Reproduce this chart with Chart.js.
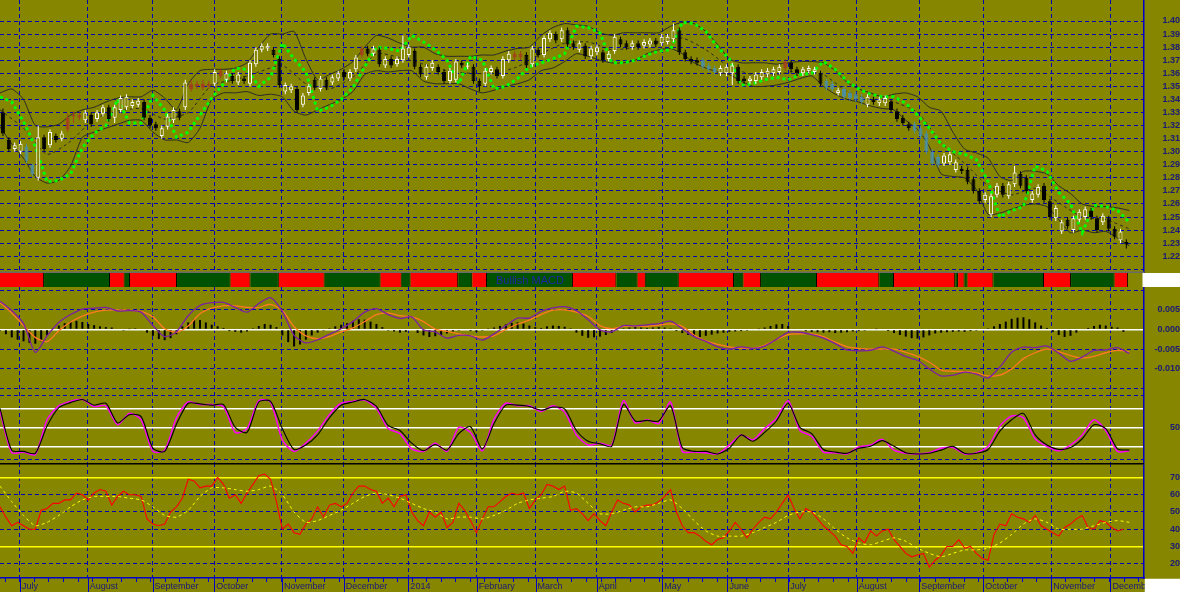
<!DOCTYPE html>
<html>
<head>
<meta charset="utf-8">
<title>EUR/USD daily with indicators</title>
<script src="https://cdn.jsdelivr.net/npm/chart.js@4.4.1/dist/chart.umd.min.js"></script>
<style>
  html, body { margin: 0; padding: 0; background: #868600; }
  #wrap { position: relative; width: 1180px; height: 592px; background: #868600; overflow: hidden; }
  #wrap canvas { position: absolute; left: 0; }
</style>
</head>
<body>
<div id="wrap">
  <canvas id="price" width="1180" height="273" style="top:0px"></canvas>
  <canvas id="strip" width="1180" height="14" style="top:273px"></canvas>
  <canvas id="macd" width="1180" height="105" style="top:287px"></canvas>
  <canvas id="stoch" width="1180" height="71" style="top:392px"></canvas>
  <canvas id="rsi" width="1180" height="129" style="top:463px"></canvas>
</div>
<script>
Chart.defaults.font.family = "'Liberation Sans', Arial, sans-serif";

// x unit = one step (two trading days)
const xMax = 194.5;
const monthTicks = [3.40, 14.91, 25.93, 36.43, 47.94, 58.45, 69.43, 81.06, 91.06,
  101.46, 112.60, 123.67, 134.02, 145.67, 156.29, 167.17, 178.75, 188.80];
const monthLabels = ['July', 'August', 'September', 'October', 'November', 'December', '2014',
  'February', 'March', 'April', 'May', 'June', 'July', 'August', 'September', 'October', 'November', 'December'];

// candles
const opens = [1.330,1.309,1.302,1.300,1.304,1.290,1.280,1.311,1.305,1.312,
  1.310,1.317,1.327,1.326,1.324,1.328,1.325,1.329,1.334,1.326,
  1.332,1.334,1.335,1.336,1.338,1.326,1.321,1.312,1.319,1.324,
  1.331,1.334,1.352,1.350,1.349,1.352,1.352,1.362,1.355,1.358,
  1.353,1.356,1.352,1.367,1.378,1.379,1.378,1.371,1.346,1.347,
  1.348,1.336,1.345,1.355,1.348,1.355,1.353,1.356,1.361,1.356,
  1.363,1.374,1.379,1.375,1.378,1.366,1.371,1.367,1.370,1.374,
  1.377,1.365,1.357,1.364,1.365,1.361,1.354,1.355,1.368,1.365,
  1.365,1.354,1.352,1.361,1.363,1.358,1.370,1.372,1.375,1.374,
  1.367,1.378,1.374,1.386,1.390,1.386,1.393,1.383,1.378,1.381,
  1.373,1.376,1.376,1.371,1.377,1.386,1.383,1.380,1.383,1.381,
  1.382,1.385,1.383,1.384,1.386,1.393,1.376,1.371,1.370,1.370,
  1.366,1.364,1.360,1.360,1.360,1.365,1.356,1.354,1.354,1.357,
  1.359,1.360,1.361,1.364,1.368,1.363,1.360,1.362,1.361,1.360,
  1.354,1.352,1.345,1.348,1.345,1.344,1.342,1.336,1.340,1.337,
  1.337,1.338,1.331,1.326,1.321,1.321,1.318,1.314,1.300,1.296,
  1.291,1.292,1.286,1.287,1.286,1.279,1.270,1.263,1.252,1.267,
  1.274,1.266,1.275,1.283,1.280,1.263,1.267,1.274,1.262,1.249,
  1.239,1.248,1.240,1.248,1.250,1.255,1.249,1.246,1.249,1.241,
  1.232,1.231];
const closes = [1.314,1.302,1.305,1.306,1.293,1.283,1.311,1.302,1.315,1.309,
  1.314,1.326,1.328,1.328,1.330,1.321,1.330,1.334,1.325,1.334,
  1.341,1.342,1.338,1.339,1.326,1.320,1.318,1.318,1.327,1.332,
  1.326,1.353,1.348,1.352,1.352,1.350,1.361,1.358,1.360,1.354,
  1.359,1.354,1.368,1.378,1.381,1.381,1.374,1.351,1.351,1.350,
  1.332,1.343,1.350,1.349,1.356,1.349,1.357,1.360,1.357,1.361,
  1.372,1.379,1.375,1.379,1.367,1.371,1.366,1.371,1.379,1.380,
  1.365,1.359,1.365,1.368,1.361,1.354,1.362,1.369,1.366,1.366,
  1.354,1.350,1.362,1.364,1.358,1.371,1.375,1.375,1.372,1.366,
  1.379,1.374,1.387,1.391,1.385,1.393,1.382,1.380,1.383,1.373,
  1.379,1.380,1.370,1.375,1.388,1.382,1.380,1.383,1.380,1.384,
  1.385,1.382,1.388,1.388,1.393,1.376,1.371,1.369,1.368,1.365,
  1.363,1.361,1.364,1.365,1.366,1.354,1.354,1.356,1.359,1.361,
  1.362,1.363,1.365,1.369,1.363,1.360,1.363,1.364,1.363,1.352,
  1.349,1.348,1.347,1.342,1.341,1.340,1.338,1.342,1.338,1.340,
  1.341,1.332,1.325,1.322,1.318,1.316,1.312,1.300,1.291,1.290,
  1.297,1.298,1.292,1.285,1.277,1.270,1.262,1.267,1.266,1.274,
  1.267,1.275,1.284,1.274,1.270,1.268,1.273,1.263,1.250,1.257,
  1.246,1.243,1.249,1.254,1.256,1.250,1.240,1.251,1.241,1.235,
  1.239,1.229];
const highs = [1.333,1.311,1.307,1.308,1.306,1.291,1.320,1.313,1.317,1.314,
  1.316,1.329,1.331,1.330,1.332,1.330,1.332,1.336,1.336,1.336,
  1.343,1.344,1.340,1.341,1.340,1.328,1.323,1.320,1.329,1.334,
  1.333,1.355,1.355,1.354,1.355,1.354,1.363,1.364,1.362,1.360,
  1.361,1.358,1.370,1.380,1.383,1.383,1.380,1.373,1.353,1.352,
  1.350,1.345,1.352,1.357,1.358,1.357,1.359,1.362,1.363,1.363,
  1.374,1.381,1.381,1.381,1.380,1.373,1.373,1.373,1.389,1.382,
  1.379,1.367,1.367,1.370,1.367,1.363,1.364,1.371,1.370,1.368,
  1.367,1.356,1.364,1.366,1.365,1.373,1.377,1.377,1.377,1.376,
  1.381,1.380,1.389,1.393,1.392,1.395,1.395,1.385,1.385,1.383,
  1.381,1.382,1.378,1.377,1.390,1.388,1.385,1.385,1.385,1.386,
  1.387,1.387,1.390,1.390,1.398,1.395,1.378,1.373,1.372,1.372,
  1.368,1.366,1.366,1.367,1.368,1.367,1.358,1.358,1.361,1.363,
  1.364,1.365,1.367,1.371,1.370,1.365,1.365,1.366,1.365,1.362,
  1.356,1.354,1.349,1.350,1.347,1.346,1.344,1.344,1.342,1.342,
  1.343,1.340,1.333,1.328,1.323,1.323,1.320,1.316,1.302,1.298,
  1.299,1.300,1.294,1.289,1.288,1.281,1.272,1.269,1.268,1.276,
  1.276,1.277,1.289,1.285,1.282,1.270,1.275,1.276,1.264,1.259,
  1.248,1.250,1.251,1.256,1.258,1.257,1.251,1.253,1.251,1.243,
  1.241,1.233];
const lows = [1.312,1.300,1.300,1.298,1.291,1.281,1.278,1.300,1.303,1.307,
  1.308,1.315,1.322,1.324,1.322,1.319,1.323,1.327,1.323,1.322,
  1.330,1.332,1.333,1.334,1.324,1.318,1.316,1.310,1.317,1.322,
  1.324,1.332,1.346,1.348,1.347,1.348,1.350,1.356,1.353,1.352,
  1.351,1.352,1.350,1.365,1.376,1.377,1.372,1.349,1.344,1.345,
  1.330,1.334,1.343,1.347,1.346,1.347,1.351,1.354,1.355,1.354,
  1.361,1.372,1.373,1.373,1.365,1.364,1.364,1.365,1.368,1.372,
  1.363,1.357,1.355,1.362,1.359,1.352,1.352,1.353,1.364,1.363,
  1.352,1.346,1.350,1.359,1.356,1.356,1.368,1.370,1.370,1.364,
  1.365,1.372,1.372,1.384,1.383,1.384,1.380,1.378,1.376,1.371,
  1.371,1.374,1.368,1.369,1.375,1.380,1.378,1.378,1.378,1.379,
  1.380,1.380,1.381,1.382,1.384,1.374,1.369,1.367,1.366,1.363,
  1.361,1.359,1.358,1.358,1.351,1.352,1.352,1.352,1.352,1.355,
  1.357,1.358,1.359,1.362,1.361,1.358,1.358,1.360,1.359,1.350,
  1.347,1.346,1.343,1.340,1.339,1.338,1.336,1.334,1.336,1.335,
  1.335,1.330,1.323,1.320,1.316,1.314,1.310,1.298,1.289,1.288,
  1.289,1.290,1.284,1.283,1.275,1.268,1.260,1.261,1.250,1.265,
  1.265,1.264,1.273,1.272,1.268,1.261,1.265,1.261,1.248,1.247,
  1.237,1.241,1.238,1.246,1.248,1.248,1.238,1.244,1.239,1.233,
  1.230,1.226];
const tealBars = [4,5,119,120,121,140,141,143,144,145,146,155,156,157,158,159];
const brownBars = [11,12,13,32,33,34,35,37,61,87,88,133];

// Bollinger bands and trailing stop (every 2 steps, mid every 4)
const bandUpper = [1.345,1.348,1.340,1.320,1.319,1.321,1.328,1.332,1.334,1.338,
  1.341,1.342,1.342,1.347,1.341,1.332,1.352,1.362,1.363,1.363,
  1.364,1.368,1.380,1.390,1.390,1.392,1.371,1.355,1.359,1.363,
  1.369,1.380,1.389,1.387,1.383,1.380,1.380,1.375,1.373,1.373,
  1.373,1.374,1.374,1.377,1.379,1.380,1.389,1.395,1.398,1.397,
  1.396,1.391,1.389,1.391,1.391,1.391,1.391,1.396,1.399,1.398,
  1.392,1.382,1.371,1.368,1.368,1.368,1.367,1.368,1.369,1.369,
  1.368,1.362,1.353,1.348,1.345,1.342,1.344,1.345,1.342,1.334,
  1.331,1.315,1.302,1.299,1.295,1.281,1.278,1.285,1.285,1.283,
  1.274,1.268,1.260,1.258,1.258,1.257,1.255];
const bandLower = [1.319,1.306,1.295,1.281,1.276,1.278,1.289,1.311,1.315,1.318,
  1.321,1.324,1.324,1.315,1.309,1.309,1.307,1.318,1.340,1.345,
  1.345,1.346,1.343,1.344,1.342,1.331,1.328,1.332,1.336,1.340,
  1.346,1.359,1.362,1.361,1.362,1.362,1.354,1.352,1.352,1.352,
  1.348,1.345,1.347,1.350,1.352,1.355,1.362,1.364,1.369,1.375,
  1.373,1.370,1.368,1.368,1.370,1.375,1.378,1.379,1.375,1.368,
  1.364,1.361,1.359,1.354,1.350,1.350,1.351,1.353,1.356,1.358,
  1.350,1.344,1.340,1.338,1.335,1.333,1.332,1.324,1.317,1.304,
  1.283,1.281,1.280,1.271,1.252,1.253,1.256,1.259,1.260,1.258,
  1.248,1.238,1.240,1.238,1.239,1.234,1.228];
const bandMid = [1.332,1.318,1.298,1.308,1.325,1.331,1.333,1.325,1.330,1.351,
  1.355,1.361,1.366,1.352,1.348,1.357,1.375,1.372,1.367,1.362,
  1.360,1.360,1.365,1.375,1.383,1.384,1.378,1.380,1.384,1.387,
  1.378,1.365,1.359,1.359,1.362,1.359,1.346,1.340,1.338,1.330,
  1.307,1.291,1.274,1.267,1.272,1.261,1.250,1.248,1.241];
const stopLine = [1.342,1.338,1.323,1.304,1.277,1.278,1.283,1.303,1.314,1.320,
  1.340,1.322,1.322,1.343,1.332,1.311,1.315,1.328,1.341,1.352,
  1.364,1.363,1.350,1.357,1.383,1.371,1.361,1.331,1.334,1.340,
  1.349,1.365,1.380,1.379,1.377,1.389,1.384,1.378,1.370,1.352,
  1.373,1.370,1.348,1.350,1.356,1.365,1.368,1.371,1.375,1.396,
  1.395,1.391,1.368,1.368,1.370,1.374,1.377,1.378,1.399,1.398,
  1.392,1.380,1.371,1.351,1.352,1.355,1.357,1.355,1.359,1.360,
  1.369,1.363,1.354,1.348,1.344,1.342,1.342,1.337,1.328,1.318,
  1.306,1.300,1.298,1.294,1.277,1.250,1.255,1.258,1.289,1.285,
  1.269,1.260,1.238,1.259,1.258,1.255,1.246];

// MACD state strip: segment edges, alternating bearish (red) / bullish (green)
const stripEdges = [0, 7.5, 18.7, 21.2, 22.1, 30.1, 39.2, 42.6, 47.4, 55.2, 64.7, 68.3, 69.8,
  77.9, 80.3, 82.8, 97.4, 104.8, 108.4, 109.8, 115.4, 124.8, 126.4, 129.4, 138.9, 149.5,
  152, 162.4, 162.9, 164, 164.5, 168.9, 177.5, 182.1, 189.5, 191.8];
const stripText = 'Bullish MACD';
const stripTextSegment = 15;

// MACD (lines every 2 steps, histogram every step)
const macdLine = [0.0072,0.0048,0.0015,-0.0058,-0.0016,0.0018,0.0038,0.0052,0.0054,0.0056,
  0.0047,0.0048,0.0044,0.0010,-0.0018,-0.0006,0.0035,0.0061,0.0068,0.0069,
  0.0056,0.0044,0.0066,0.0081,0.0046,-0.0015,-0.0034,-0.0026,-0.0012,0.0002,
  0.0020,0.0044,0.0053,0.0038,0.0028,0.0032,-0.0001,-0.0006,-0.0022,-0.0015,
  -0.0016,-0.0027,-0.0011,0.0010,0.0029,0.0029,0.0046,0.0055,0.0058,0.0048,
  0.0025,-0.0001,-0.0006,0.0010,0.0009,0.0012,0.0015,0.0021,0.0002,-0.0018,
  -0.0030,-0.0044,-0.0050,-0.0044,-0.0048,-0.0042,-0.0025,-0.0007,-0.0007,-0.0013,
  -0.0022,-0.0036,-0.0052,-0.0054,-0.0053,-0.0044,-0.0055,-0.0069,-0.0078,-0.0100,
  -0.0118,-0.0116,-0.0108,-0.0113,-0.0123,-0.0095,-0.0058,-0.0045,-0.0046,-0.0042,
  -0.0060,-0.0081,-0.0070,-0.0053,-0.0052,-0.0046,-0.0061];
const macdSignal = [0.0068,0.0042,0.0010,-0.0020,-0.0031,-0.0003,0.0019,0.0034,0.0044,0.0049,
  0.0050,0.0049,0.0046,0.0032,0.0002,-0.0007,0.0009,0.0040,0.0054,0.0060,
  0.0060,0.0056,0.0056,0.0064,0.0048,0.0007,-0.0016,-0.0023,-0.0018,-0.0006,
  0.0004,0.0020,0.0038,0.0042,0.0035,0.0032,0.0020,0.0001,-0.0005,-0.0011,
  -0.0016,-0.0019,-0.0016,0.0000,0.0014,0.0024,0.0038,0.0049,0.0050,0.0044,
  0.0033,0.0010,0.0002,0.0008,0.0009,0.0008,0.0011,0.0014,0.0008,-0.0014,
  -0.0029,-0.0038,-0.0044,-0.0047,-0.0048,-0.0040,-0.0026,-0.0013,-0.0011,-0.0011,
  -0.0018,-0.0032,-0.0044,-0.0048,-0.0050,-0.0050,-0.0050,-0.0058,-0.0068,-0.0083,
  -0.0103,-0.0106,-0.0107,-0.0110,-0.0118,-0.0116,-0.0100,-0.0074,-0.0059,-0.0050,
  -0.0056,-0.0066,-0.0072,-0.0068,-0.0059,-0.0053,-0.0057];
const macdHist = [-0.0003,-0.0012,-0.0020,-0.0026,-0.0030,-0.0034,-0.0036,-0.0030,
  -0.0015,0.0003,
  0.0010,0.0016,0.0020,0.0022,0.0019,0.0014,0.0011,0.0008,0.0006,0.0005,
  0.0002,-0.0003,0.0001,0.0003,-0.0002,
  -0.0008,-0.0016,-0.0024,-0.0027,-0.0022,-0.0012,
  0.0008,0.0018,0.0026,0.0024,0.0018,0.0012,0.0008,
  0.0004,-0.0004,-0.0006,-0.0008,-0.0005,0.0003,
  0.0009,0.0014,0.0012,0.0006,
  -0.0015,-0.0032,-0.0043,-0.0038,-0.0026,
  -0.0015,-0.0008,-0.0003,
  0.0003,0.0008,0.0012,0.0016,0.0022,0.0026,0.0025,0.0020,0.0014,0.0006,
  -0.0003,-0.0005,-0.0008,-0.0006,-0.0002,
  -0.0009,-0.0015,-0.0019,-0.0017,-0.0014,-0.0010,-0.0005,
  -0.0003,0.0002,-0.0004,-0.0006,-0.0003,0.0001,
  0.0005,0.0009,0.0013,0.0017,0.0018,0.0015,0.0010,0.0006,
  0.0004,0.0008,0.0010,0.0009,0.0007,0.0003,
  -0.0008,-0.0016,-0.0021,-0.0020,
  -0.0018,-0.0014,-0.0009,-0.0003,
  0.0003,0.0005,0.0006,0.0005,0.0004,0.0005,0.0006,0.0005,0.0003,
  -0.0004,-0.0009,-0.0014,-0.0018,-0.0019,-0.0016,-0.0013,-0.0010,-0.0008,-0.0006,
  -0.0005,-0.0004,-0.0003,-0.0002,0.0001,
  0.0005,0.0009,0.0013,0.0014,0.0009,
  0.0002,-0.0002,-0.0004,-0.0006,-0.0007,-0.0008,-0.0007,-0.0009,-0.0008,-0.0007,-0.0005,-0.0004,
  -0.0003,-0.0002,0.0001,0.0002,
  -0.0004,-0.0009,-0.0014,-0.0018,-0.0022,-0.0023,-0.0020,-0.0015,
  -0.0010,-0.0008,-0.0007,-0.0006,-0.0005,-0.0006,-0.0004,-0.0003,
  -0.0002,0.0003,
  0.0008,0.0014,0.0020,0.0027,0.0030,0.0031,0.0026,0.0018,0.0010,
  0.0004,-0.0006,-0.0014,-0.0019,-0.0016,
  -0.0008,-0.0002,0.0004,
  0.0009,0.0012,0.0010,0.0007,0.0005,
  -0.0006];

// stochastic (every 2 steps)
const stochK = [76,10,11,7,62,84,91,94,83,84,
  54,72,62,12,14,65,90,86,86,83,
  42,48,92,90,30,12,25,44,70,88,
  91,93,80,48,40,16,12,25,12,50,
  42,13,63,88,84,84,75,84,74,38,
  22,25,22,92,57,62,56,90,12,11,
  10,8,22,38,30,48,64,92,45,36,
  11,10,8,19,22,31,14,9,8,10,
  17,18,8,10,20,52,68,65,32,20,
  13,22,38,62,45,12,13];
const stochD = [80,14,12,9,52,81,89,94,85,88,
  57,70,67,17,12,55,88,87,85,86,
  50,42,90,91,48,15,22,38,65,85,
  90,94,83,53,45,25,13,23,14,40,
  51,16,56,85,85,83,77,82,79,45,
  28,24,20,86,60,61,60,84,18,12,
  12,8,17,38,28,42,60,88,50,40,
  15,11,9,17,20,29,20,10,8,9,
  14,20,9,9,15,44,62,72,38,22,
  15,18,32,54,48,16,14];

// RSI (every step) and its average (every 2 steps)
const rsi = [53,47,42,44,42,40,40,51,52,55,
  55,57,57,61,60,57,61,63,62,54,
  59,62,60,60,59,46,43,42,43,50,
  53,58,69,68,64,65,65,70,66,58,
  60,55,61,66,71,72,69,56,40,43,
  38,37,43,46,53,47,54,55,53,55,
  61,65,65,63,62,55,58,53,59,60,
  50,45,42,50,47,50,41,44,55,51,
  45,38,46,53,53,56,59,61,60,61,
  52,57,60,66,65,63,65,51,52,49,
  45,49,45,42,50,57,55,54,50,53,
  54,54,56,59,63,50,42,38,38,36,
  33,31,34,35,39,44,40,35,40,44,
  47,46,50,55,60,52,46,52,50,46,
  42,39,36,31,30,26,35,32,39,36,
  39,40,34,30,26,24,25,26,18,22,
  25,30,30,34,29,30,26,23,22,37,
  43,42,49,47,46,44,48,42,40,38,
  36,41,43,46,48,41,40,45,44,41,
  39,40];
const rsiAvg = [65,56,48,42,44,48,53,57,59,59,
  59,58,57,53,48,47,51,59,64,64,
  63,62,63,65,60,50,44,45,48,51,
  55,59,61,60,58,55,52,50,46,47,
  47,46,48,51,55,57,58,59,62,61,
  55,49,49,51,53,53,55,57,52,45,
  39,36,36,36,38,41,44,48,50,50,
  46,40,35,32,31,33,35,33,29,26,
  24,26,28,28,29,32,37,43,46,44,
  40,40,40,42,44,45,44];

// axis ticks
const priceTicks = [1.21,1.22,1.23,1.24,1.25,1.26,1.27,1.28,1.29,1.30,1.31,1.32,1.33,1.34,1.35,1.36,1.37,1.38,1.39,1.40];
const macdTicks = [-0.015, -0.010, -0.005, 0, 0.005, 0.010];
const stochTicks = [0, 20, 50, 80, 100];
const stochLevels = [20, 50, 80];
const rsiTicks = [20, 30, 40, 50, 60, 70];
const rsiLevels = [30, 70];

// ---- styling ----
const OLIVE = '#868600';
const GRID = '#0000b0';
const AXIS = '#0000c8';
const LABEL = '#1a1a78';
const GRID_DASH = [4, 3];
const TEAL = '#4d8ea0';
const BROWN = '#a4401c';

function xAxis(withLabels, showGrid) {
  return {
    type: 'linear', min: 0, max: xMax, offset: false, bounds: 'data',
    afterBuildTicks: s => { s.ticks = monthTicks.map(v => ({ value: v })); },
    afterFit: s => { s.height = withLabels ? 14 : 0; s.paddingLeft = 0; s.paddingRight = 0; },
    grid: { display: showGrid !== false, color: GRID, lineWidth: 1, drawTicks: false, offset: false },
    border: { display: withLabels, color: AXIS, width: 1.5, dash: GRID_DASH },
    ticks: withLabels ? {
      autoSkip: false, maxRotation: 0, minRotation: 0, align: 'start', labelOffset: 2, padding: 3,
      color: LABEL, font: { size: 9 },
      callback: (v, i) => monthLabels[i]
    } : { display: false }
  };
}

function yAxis(min, max, ticks, pad, label, levels, levelColor) {
  const isLevel = ctx => !!(ctx.tick && levels && levels.includes(ctx.tick.value));
  return {
    type: 'linear', position: 'right', min, max, bounds: 'data',
    afterBuildTicks: s => { s.ticks = ticks.map(v => ({ value: v })); },
    afterFit: s => { s.width = 36; s.paddingTop = 0; s.paddingBottom = 0; },
    grid: {
      drawTicks: false,
      color: ctx => isLevel(ctx) ? levelColor : GRID,
      lineWidth: ctx => isLevel(ctx) ? 1.5 : 1
    },
    border: { display: true, color: AXIS, width: 1.5, dash: ctx => isLevel(ctx) ? [] : GRID_DASH },
    ticks: {
      autoSkip: false, crossAlign: 'far', padding: pad, color: LABEL,
      font: { size: 9, weight: 'bold' }, callback: label
    }
  };
}

function baseOptions(scales, extra) {
  return Object.assign({
    responsive: false, animation: false, events: [],
    layout: { padding: 0, autoPadding: false },
    elements: { point: { radius: 0 } },
    plugins: { legend: { display: false }, tooltip: { enabled: false } },
    scales
  }, extra || {});
}

const every = (arr, step) => arr.map((v, i) => ({ x: i * step, y: v }));

function candleColor(i) {
  if (tealBars.includes(i)) return TEAL;
  if (brownBars.includes(i)) return BROWN;
  return closes[i] >= opens[i] ? '#ffffff' : '#000000';
}
function bodyFill(i) {
  const c = candleColor(i);
  return c === '#ffffff' ? OLIVE : c;
}

// ---- price panel ----
const priceFooter = {
  id: 'priceFooter',
  afterDraw(chart) {
    const { ctx, chartArea: a } = chart;
    ctx.save();
    ctx.strokeStyle = '#6a6a6a';
    ctx.lineWidth = 1.5;
    ctx.beginPath();
    ctx.moveTo(0, chart.height - 0.75);
    ctx.lineTo(a.right, chart.height - 0.75);
    ctx.stroke();
    ctx.restore();
  }
};

new Chart(document.getElementById('price'), {
  type: 'bar',
  data: {
    datasets: [
      { type: 'line', data: every(bandUpper, 2), borderColor: '#2a2a2a', borderWidth: 1, tension: 0.2, order: 10 },
      { type: 'line', data: every(bandLower, 2), borderColor: '#2a2a2a', borderWidth: 1, tension: 0.2, order: 10 },
      { type: 'line', data: every(bandMid, 4), borderColor: '#2a2a2a', borderWidth: 1, borderDash: [3, 3], tension: 0.2, order: 10 },
      { type: 'line', data: every(stopLine, 2), borderColor: '#00ff00', borderWidth: 3, borderDash: [3, 3], order: 9 },
      {
        data: highs.map((h, i) => ({ x: i + 0.5, y: [lows[i], h] })),
        backgroundColor: ctx => candleColor(ctx.dataIndex),
        barThickness: 1, grouped: false, inflateAmount: 0, order: 2
      },
      {
        data: opens.map((o, i) => ({ x: i + 0.5, y: [o, closes[i]] })),
        backgroundColor: ctx => bodyFill(ctx.dataIndex),
        borderColor: ctx => candleColor(ctx.dataIndex),
        borderWidth: 1, borderSkipped: false, minBarLength: 1,
        barThickness: 4, grouped: false, inflateAmount: 0, order: 1
      }
    ]
  },
  options: baseOptions({
    x: xAxis(false),
    y: yAxis(1.20719, 1.41607, priceTicks, 15, v => (v < 1.215 ? '' : v.toFixed(2)))
  }),
  plugins: [priceFooter]
});

// ---- MACD state strip ----
const stripDeco = {
  id: 'stripDeco',
  afterDraw(chart) {
    const { ctx, chartArea: a, scales: { x } } = chart;
    ctx.save();
    ctx.fillStyle = '#ffffff';
    ctx.fillRect(a.right - 1.5, 0, chart.width - a.right + 1.5, chart.height);
    const mid = (stripEdges[stripTextSegment] + stripEdges[stripTextSegment + 1]) / 2;
    ctx.fillStyle = '#2424a8';
    ctx.font = "11px 'Liberation Sans', Arial, sans-serif";
    ctx.textAlign = 'center';
    ctx.textBaseline = 'middle';
    ctx.fillText(stripText, x.getPixelForValue(mid), chart.height / 2 + 0.5);
    ctx.restore();
  }
};

new Chart(document.getElementById('strip'), {
  type: 'bar',
  data: {
    datasets: [{
      data: stripEdges.slice(0, -1).map((e, i) => ({ x: [e, stripEdges[i + 1]], y: 0 })),
      backgroundColor: ctx => (ctx.dataIndex % 2 ? '#005200' : '#ff0000'),
      borderColor: '#000000',
      borderWidth: { left: 0, right: 1, top: 0, bottom: 0 },
      borderSkipped: false, barThickness: 14, grouped: false, inflateAmount: 0
    }]
  },
  options: baseOptions({
    x: xAxis(false, false),
    y: {
      type: 'linear', position: 'right', min: -0.5, max: 0.5, offset: false,
      afterFit: s => { s.width = 36; s.paddingTop = 0; s.paddingBottom = 0; },
      ticks: { display: false }, grid: { display: false }, border: { display: false }
    }
  }, { indexAxis: 'y' }),
  plugins: [stripDeco]
});

// ---- MACD panel ----
new Chart(document.getElementById('macd'), {
  type: 'bar',
  data: {
    datasets: [
      { data: macdHist.map((v, i) => ({ x: i, y: v })), backgroundColor: '#000000', barThickness: 2, grouped: false, inflateAmount: 0, order: 3 },
      { type: 'line', data: every(macdSignal, 2), borderColor: '#ff7a22', borderWidth: 1.3, tension: 0.25, order: 2 },
      { type: 'line', data: every(macdLine, 2), borderColor: '#7d1fa6', borderWidth: 1.3, tension: 0.25, order: 1 }
    ]
  },
  options: baseOptions({
    x: xAxis(false),
    y: yAxis(-0.015863, 0.010787, macdTicks, 7,
      v => (v > 0.0075 || v < -0.0125 ? '' : v.toFixed(3)), [0], '#ffffff')
  })
});

// ---- stochastic panel ----
new Chart(document.getElementById('stoch'), {
  type: 'line',
  data: {
    datasets: [
      { data: every(stochK, 2), borderColor: '#ff00ff', borderWidth: 1.5, tension: 0.25, order: 2 },
      { data: every(stochD, 2), borderColor: '#000000', borderWidth: 1.1, tension: 0.25, order: 1 }
    ]
  },
  options: baseOptions({
    x: xAxis(false),
    y: yAxis(-6.3, 105.8, stochTicks, 23, v => (v === 50 ? '50' : ''), stochLevels, '#ffffff')
  })
});

// ---- RSI panel with date axis ----
const rsiDeco = {
  id: 'rsiDeco',
  afterDraw(chart) {
    const { ctx, chartArea: a, scales: { x } } = chart;
    ctx.save();
    // separator from the stochastic panel
    ctx.strokeStyle = '#000000';
    ctx.lineWidth = 1.5;
    ctx.beginPath();
    ctx.moveTo(0, 0.75);
    ctx.lineTo(a.right, 0.75);
    ctx.stroke();
    // month and week tick marks under the axis
    ctx.strokeStyle = AXIS;
    ctx.lineWidth = 1;
    ctx.beginPath();
    monthTicks.forEach(v => {
      const px = Math.round(x.getPixelForValue(v)) + 0.5;
      ctx.moveTo(px, a.bottom);
      ctx.lineTo(px, chart.height);
    });
    for (let v = 0.83; v < xMax; v += 2.47) {
      const px = Math.round(x.getPixelForValue(v)) + 0.5;
      ctx.moveTo(px, a.bottom);
      ctx.lineTo(px, a.bottom + 4);
    }
    ctx.stroke();
    ctx.fillStyle = '#ffffff';
    ctx.fillRect(a.right + 0.75, a.bottom + 0.75, chart.width - a.right, chart.height - a.bottom);
    ctx.restore();
  }
};

new Chart(document.getElementById('rsi'), {
  type: 'line',
  data: {
    datasets: [
      { data: rsi.map((v, i) => ({ x: i, y: v })), borderColor: '#ff0000', borderWidth: 1.1, order: 2 },
      { data: every(rsiAvg, 2), borderColor: '#ffff00', borderWidth: 1, borderDash: [3, 3], tension: 0.2, order: 1 }
    ]
  },
  options: baseOptions({
    x: xAxis(true),
    y: yAxis(11.71, 78.41, rsiTicks, 23, v => String(v), rsiLevels, '#ffff00')
  }),
  plugins: [rsiDeco]
});
</script>
</body>
</html>
